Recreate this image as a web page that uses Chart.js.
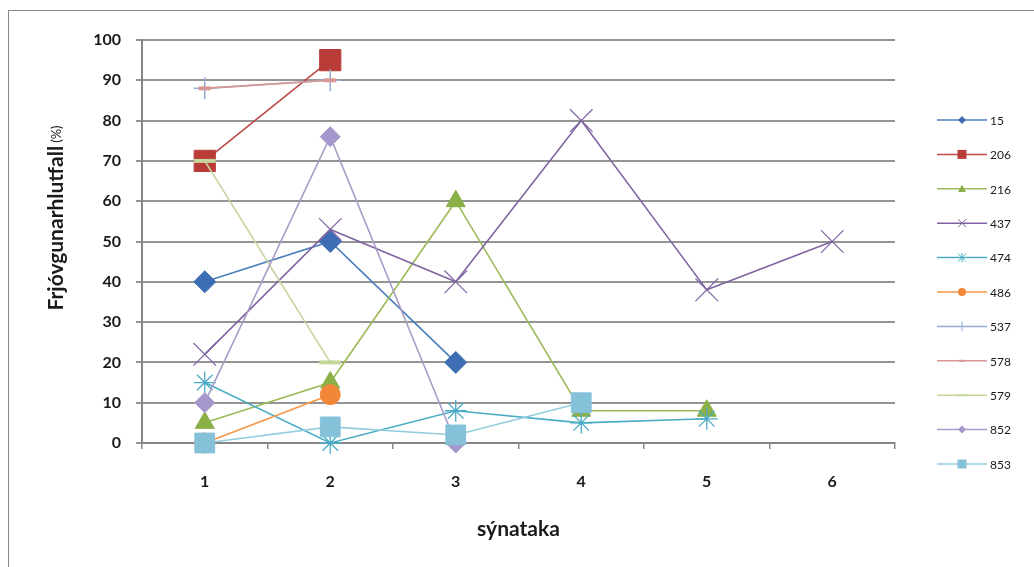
<!DOCTYPE html>
<html>
<head>
<meta charset="utf-8">
<script src="https://cdn.jsdelivr.net/npm/chart.js@4.4.1/dist/chart.umd.min.js"></script>
<style>
  html, body { margin: 0; padding: 0; background: #ffffff; }
  canvas { display: block; }
</style>
</head>
<body>
<canvas id="c" width="1034" height="567"></canvas>
<script>
// Sample rounds (x axis) and y tick values
const categories = ['1', '2', '3', '4', '5', '6'];
const yTickValues = [0, 10, 20, 30, 40, 50, 60, 70, 80, 90, 100];

// Fertilisation ratio (%) per sample, one array per series
const seriesNames = ['15', '206', '216', '437', '474', '486', '537', '578', '579', '852', '853'];
const s15  = [40, 50, 20, null, null, null];
const s206 = [70, 95, null, null, null, null];
const s216 = [5, 15, 60, 8, 8, null];
const s437 = [22, 53, 40, 80, 38, 50];
const s474 = [15, 0, 8, 5, 6, null];
const s486 = [0, 12, null, null, null, null];
const s537 = [88, 90, null, null, null, null];
const s578 = [88, 90, null, null, null, null];
const s579 = [70, 20, null, null, null, null];
const s852 = [10, 76, 0, null, null, null];
const s853 = [0, 4, 2, 10, null, null];
const seriesValues = [s15, s206, s216, s437, s474, s486, s537, s578, s579, s852, s853];

// Line colour, marker fill, marker shape and marker size per series
const seriesStyles = [
  { color: '#4A7EBB', fill: '#3D6EB4', shape: 'rectRot',  r: 11, bw: 1 },
  { color: '#BE4B48', fill: '#B93C39', shape: 'rect',     r: 15, bw: 1 },
  { color: '#9BBB59', fill: '#8BB047', shape: 'triangle', r: 11, bw: 1 },
  { color: '#8064A2', fill: '#8064A2', shape: 'crossRot', r: 16, bw: 1.2 },
  { color: '#4BACC6', fill: '#4BACC6', shape: 'star',     r: 11, bw: 1.3 },
  { color: '#F79646', fill: '#F2873A', shape: 'circle',   r: 10, bw: 1 },
  { color: '#93AED6', fill: '#7CA6D4', shape: 'cross',    r: 11, bw: 1.5 },
  { color: '#D99694', fill: '#D98886', shape: 'line',     r: 6,  bw: 4 },
  { color: '#C3D69B', fill: '#C3D69B', shape: 'line',     r: 11, bw: 4 },
  { color: '#A99BC6', fill: '#A596CB', shape: 'rectRot',  r: 10, bw: 1 },
  { color: '#93CDDD', fill: '#86C1DA', shape: 'rect',     r: 14, bw: 1 }
];

const FONT = 'Lato, "Open Sans", sans-serif';

const datasets = seriesNames.map((name, i) => {
  const st = seriesStyles[i];
  return {
    label: name,
    data: seriesValues[i],
    borderColor: st.color,
    backgroundColor: st.fill,
    borderWidth: 1.6,
    pointStyle: st.shape,
    pointRadius: st.r,
    pointHoverRadius: st.r,
    pointBackgroundColor: st.fill,
    pointBorderColor: st.shape === 'line' || st.shape.startsWith('cross') || st.shape === 'star' ? st.color : st.fill,
    pointBorderWidth: st.bw,
    tension: 0,
    spanGaps: false,
    clip: false,
    order: seriesNames.length - i   // later series drawn on top
  };
});

// Own small marker painter for the legend glyphs
function legendMarker(ctx, shape, x, y, r, fill, stroke, bw) {
  ctx.save();
  ctx.fillStyle = fill;
  ctx.strokeStyle = stroke;
  ctx.lineWidth = bw;
  ctx.beginPath();
  switch (shape) {
    case 'rectRot':
      ctx.moveTo(x, y - r); ctx.lineTo(x + r, y); ctx.lineTo(x, y + r); ctx.lineTo(x - r, y); ctx.closePath();
      ctx.fill(); break;
    case 'rect':
      ctx.rect(x - r, y - r, 2 * r, 2 * r); ctx.fill(); break;
    case 'triangle':
      ctx.moveTo(x, y - r); ctx.lineTo(x + r, y + r * 0.8); ctx.lineTo(x - r, y + r * 0.8); ctx.closePath();
      ctx.fill(); break;
    case 'circle':
      ctx.arc(x, y, r, 0, Math.PI * 2); ctx.fill(); break;
    case 'crossRot':
      ctx.moveTo(x - r, y - r); ctx.lineTo(x + r, y + r);
      ctx.moveTo(x + r, y - r); ctx.lineTo(x - r, y + r); ctx.stroke(); break;
    case 'star':
      ctx.moveTo(x - r, y - r); ctx.lineTo(x + r, y + r);
      ctx.moveTo(x + r, y - r); ctx.lineTo(x - r, y + r);
      ctx.moveTo(x, y - r * 1.2); ctx.lineTo(x, y + r * 1.2); ctx.stroke(); break;
    case 'cross':
      ctx.moveTo(x, y - r); ctx.lineTo(x, y + r); ctx.stroke(); break;
    case 'line':
      ctx.moveTo(x - r, y); ctx.lineTo(x + r, y); ctx.stroke(); break;
  }
  ctx.restore();
}

const decorations = {
  id: 'decorations',
  beforeDraw(chart) {
    const ctx = chart.ctx;
    ctx.save();
    ctx.fillStyle = '#ffffff';
    ctx.fillRect(0, 0, chart.width, chart.height);
    ctx.strokeStyle = '#8a8a8a';
    ctx.lineWidth = 1;
    ctx.strokeRect(8.5, 10.5, chart.width + 20, chart.height + 20);
    ctx.restore();
  },
  afterDraw(chart) {
    const ctx = chart.ctx;
    // Y axis title: bold main word followed by a smaller unit
    ctx.save();
    ctx.translate(56, 218);
    ctx.rotate(-Math.PI / 2);
    ctx.textBaseline = 'middle';
    ctx.fillStyle = '#1a1a1a';
    const mainText = 'Frjóvgunarhlutfall';
    const unitText = '(%)';
    ctx.font = 'bold 21px ' + FONT;
    const wMain = ctx.measureText(mainText).width;
    ctx.font = '13px ' + FONT;
    const wUnit = ctx.measureText(unitText).width;
    const gap = 3;
    const total = wMain + gap + wUnit;
    ctx.textAlign = 'left';
    ctx.font = 'bold 21px ' + FONT;
    ctx.fillText(mainText, -total / 2, 0);
    ctx.font = '13px ' + FONT;
    ctx.fillText(unitText, -total / 2 + wMain + gap, 1);
    ctx.restore();

    // Legend on the right: line sample with marker, then the series name
    ctx.save();
    chart.data.datasets.forEach((ds, i) => {
      const st = seriesStyles[i];
      const y = 120 + i * 34.4;
      ctx.strokeStyle = ds.borderColor;
      ctx.lineWidth = 1.5;
      ctx.beginPath();
      ctx.moveTo(937, y);
      ctx.lineTo(987, y);
      ctx.stroke();
      let r = 4, bw = 1;
      if (st.shape === 'line') { r = st.r === 6 ? 3 : 5; bw = 2; }
      if (st.shape === 'rect') r = 4.5;
      if (st.shape === 'cross') r = 5;
      legendMarker(ctx, st.shape, 962, y, r, st.fill,
        (st.shape === 'line' || st.shape.startsWith('cross') || st.shape === 'star') ? st.color : st.fill, bw);
      ctx.fillStyle = '#1a1a1a';
      ctx.font = '12px ' + FONT;
      ctx.textAlign = 'left';
      ctx.textBaseline = 'middle';
      ctx.fillText(ds.label, 990, y + 1);
    });
    ctx.restore();
  }
};

new Chart(document.getElementById('c'), {
  type: 'line',
  data: { labels: categories, datasets },
  options: {
    responsive: false,
    animation: false,
    events: [],
    layout: { padding: { left: 0, right: 139, top: 40, bottom: 0 } },
    plugins: {
      legend: { display: false },
      tooltip: { enabled: false }
    },
    scales: {
      x: {
        type: 'category',
        offset: true,
        grid: {
          offset: true,
          drawOnChartArea: false,
          drawTicks: true,
          tickLength: 6,
          color: '#8a8a8a',
          lineWidth: 1.5
        },
        border: { color: '#868686', width: 2 },
        ticks: {
          color: '#1a1a1a',
          font: { family: FONT, size: 16, weight: 'bold' },
          padding: 23,
          maxRotation: 0
        },
        title: {
          display: true,
          text: 'sýnataka',
          color: '#1a1a1a',
          font: { family: FONT, size: 21, weight: 'bold' },
          padding: { top: 0, bottom: 25 }
        },
        afterFit(scale) { scale.height = 124; }
      },
      y: {
        min: 0,
        max: 100,
        afterBuildTicks(scale) { scale.ticks = yTickValues.map(v => ({ value: v })); },
        grid: {
          color: '#949494',
          lineWidth: 2,
          tickLength: 6
        },
        border: { color: '#868686', width: 2 },
        ticks: {
          color: '#1a1a1a',
          font: { family: FONT, size: 16, weight: 'bold' },
          padding: 15
        },
        afterFit(scale) { scale.width = 142; }
      }
    }
  },
  plugins: [decorations]
});
</script>
</body>
</html>
